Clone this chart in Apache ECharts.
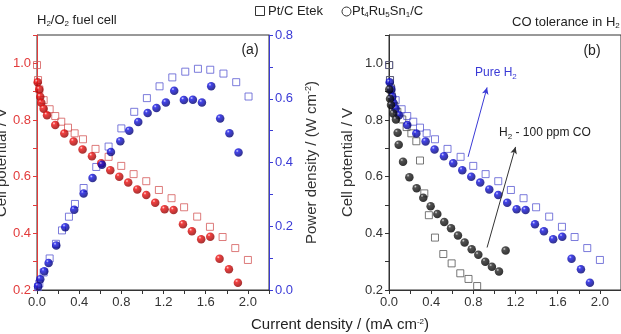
<!DOCTYPE html>
<html>
<head>
<meta charset="utf-8">
<script src="https://cdn.jsdelivr.net/npm/echarts@6/dist/echarts.min.js"></script>
<style>
  html, body { margin: 0; padding: 0; background: #fff; }
  #chart { width: 621px; height: 334px; }
</style>
</head>
<body>
<div id="chart"></div>
<script>
// (a) H2/O2 fuel cell -- Pt/C Etek, cell potential
const ptcCurrent = [0.0, 0.01, 0.022, 0.063, 0.12, 0.173, 0.23, 0.294, 0.357, 0.436, 0.555, 0.679, 0.799, 0.916, 1.036, 1.156, 1.276, 1.395, 1.519, 1.64, 1.76, 1.88, 2.0];
const ptcVoltage = [0.994, 0.941, 0.908, 0.870, 0.838, 0.814, 0.794, 0.773, 0.753, 0.732, 0.698, 0.670, 0.638, 0.609, 0.584, 0.553, 0.524, 0.492, 0.459, 0.423, 0.387, 0.348, 0.306];
// Pt4Ru5Sn1/C, cell potential
const ptruCurrent = [0.006, 0.022, 0.031, 0.041, 0.063, 0.095, 0.173, 0.259, 0.347, 0.432, 0.521, 0.609, 0.695, 0.78, 0.865, 0.951, 1.036, 1.121, 1.21, 1.295, 1.384, 1.469, 1.557, 1.643, 1.731, 1.82, 1.905];
const ptruVoltage = [0.933, 0.908, 0.882, 0.861, 0.840, 0.817, 0.782, 0.752, 0.724, 0.696, 0.672, 0.647, 0.623, 0.600, 0.579, 0.555, 0.535, 0.508, 0.485, 0.482, 0.432, 0.407, 0.379, 0.388, 0.310, 0.273, 0.226];
// power density
const ptcPowCurrent = [0.01, 0.022, 0.063, 0.12, 0.18, 0.237, 0.303, 0.36, 0.442, 0.562, 0.679, 0.8, 0.922, 1.042, 1.162, 1.283, 1.406, 1.526, 1.643, 1.768, 1.889, 2.006];
const ptcPower = [0.009, 0.02, 0.055, 0.099, 0.145, 0.187, 0.230, 0.27, 0.32, 0.386, 0.45, 0.507, 0.559, 0.602, 0.639, 0.667, 0.685, 0.694, 0.691, 0.679, 0.652, 0.607];
const ptruPowCurrent = [0.01, 0.031, 0.069, 0.11, 0.183, 0.268, 0.353, 0.442, 0.527, 0.616, 0.701, 0.79, 0.875, 0.96, 1.049, 1.133, 1.222, 1.301, 1.393, 1.478, 1.564, 1.652, 1.737, 1.825, 1.911];
const ptruPower = [0.012, 0.034, 0.059, 0.085, 0.14, 0.197, 0.252, 0.303, 0.351, 0.393, 0.433, 0.467, 0.50, 0.527, 0.555, 0.571, 0.588, 0.625, 0.596, 0.597, 0.588, 0.639, 0.538, 0.492, 0.431];

// (b) H2 - 100 ppm CO
const coPtcCurrent = [0.003, 0.009, 0.019, 0.028, 0.05, 0.079, 0.126, 0.167, 0.212, 0.259, 0.294, 0.335, 0.378, 0.436, 0.515, 0.594, 0.676, 0.754, 0.836];
const coPtcVoltage = [0.994, 0.941, 0.912, 0.882, 0.85, 0.829, 0.802, 0.775, 0.753, 0.725, 0.657, 0.541, 0.464, 0.385, 0.327, 0.294, 0.259, 0.239, 0.214];
const coPtruCurrent = [0.003, 0.01, 0.019, 0.041, 0.066, 0.082, 0.092, 0.133, 0.193, 0.262, 0.325, 0.395, 0.458, 0.524, 0.588, 0.654, 0.717, 0.784, 0.847, 0.913, 0.976, 1.043, 1.106];
const coPtruVoltage = [0.908, 0.875, 0.853, 0.823, 0.802, 0.755, 0.713, 0.653, 0.598, 0.559, 0.526, 0.496, 0.468, 0.44, 0.418, 0.392, 0.368, 0.344, 0.324, 0.30, 0.282, 0.265, 0.339];

const RED = '#e23b3b', BLUE = '#3a3ad6', FONT = '"Liberation Sans", Arial, sans-serif';

function pairs(xs, ys) { return xs.map((x, i) => [x, ys[i]]); }
function sphere(hi, mid, edge) {
  return new echarts.graphic.RadialGradient(0.35, 0.3, 0.7, [
    { offset: 0, color: hi }, { offset: 0.25, color: mid }, { offset: 1, color: edge }
  ]);
}
const redBall = sphere('#ffd0d0', '#f01010', '#900000');
const blueBall = sphere('#d0d0ff', '#1414e6', '#000070');
const blackBall = sphere('#d0d0d0', '#262626', '#000');

function squares(name, xi, yi, data, color, z) {
  return { name, type: 'scatter', xAxisIndex: xi, yAxisIndex: yi, data, symbol: 'rect', symbolSize: 7, z: z || 2,
    itemStyle: { color: 'rgba(0,0,0,0)', borderColor: color, borderWidth: 1 } };
}
function balls(name, xi, yi, data, grad, z) {
  return { name, type: 'scatter', xAxisIndex: xi, yAxisIndex: yi, data, symbol: 'circle', symbolSize: 8.5, z: z || 3,
    itemStyle: { color: grad } };
}

const tickFmt = step => v => (Math.round(v * 10) % step === 0 ? v.toFixed(1) : '');
const sub = { fontSize: 8, padding: [7, 0, 0, 0] };
const sup = { fontSize: 8, padding: [0, 0, 7, 0] };

function xAxis(gi) {
  return { type: 'value', gridIndex: gi, min: 0, max: 2.2, interval: 0.2,
    axisLine: { lineStyle: { color: '#333' } }, axisTick: { length: 4, lineStyle: { color: '#333' } },
    axisLabel: { color: '#333', fontSize: 13, fontFamily: FONT, margin: 6, formatter: tickFmt(4) },
    splitLine: { show: false } };
}
function yAxis(gi, pos, min, max, color, name, gap, fmt) {
  return { type: 'value', gridIndex: gi, position: pos, min, max, interval: 0.1,
    name, nameLocation: 'middle', nameGap: gap, nameRotate: 90,
    nameTextStyle: { color: '#333', fontSize: 15, fontFamily: FONT, rich: { sup: { fontSize: 9, padding: [0, 0, 7, 0] } } },
    axisLine: { show: true, lineStyle: { color } }, axisTick: { length: 4, lineStyle: { color } },
    axisLabel: { color, fontSize: 13, fontFamily: FONT, margin: 6, formatter: fmt },
    splitLine: { show: false } };
}

const chart = echarts.init(document.getElementById('chart'));
chart.setOption({
  animation: false,
  grid: [
    { left: 37, right: 352, top: 35, bottom: 44, outerBoundsMode: 'none', show: true, borderColor: '#333', borderWidth: 1 },
    { left: 389, right: 0, top: 35, bottom: 44, outerBoundsMode: 'none', show: true, borderColor: '#333', borderWidth: 1 }
  ],
  xAxis: [xAxis(0), xAxis(1)],
  yAxis: [
    yAxis(0, 'left', 0.2, 1.1, RED, 'Cell potential / V', 24, tickFmt(2)),
    yAxis(0, 'right', 0, 0.8, BLUE, 'Power density / (W cm{sup|-2})', 35, tickFmt(2)),
    yAxis(1, 'left', 0.2, 1.1, '#333', 'Cell potential / V', 34, tickFmt(2))
  ],
  series: [
    squares('Pt/C Etek V', 0, 0, pairs(ptcCurrent, ptcVoltage), '#d45a5a'),
    squares('Pt/C Etek P', 0, 1, pairs(ptcPowCurrent, ptcPower), '#5a5ad2'),
    balls('PtRuSn V', 0, 0, pairs(ptruCurrent, ptruVoltage), redBall, 3),
    balls('PtRuSn P', 0, 1, pairs(ptruPowCurrent, ptruPower), blueBall, 4),

    squares('Pt/C Etek H2', 1, 2, pairs(ptcCurrent, ptcVoltage), '#5a5ad2'),
    squares('Pt/C Etek CO', 1, 2, pairs(coPtcCurrent, coPtcVoltage), '#555'),
    Object.assign(balls('PtRuSn H2', 1, 2, pairs(ptruCurrent, ptruVoltage), blueBall, 3), {
      markLine: { silent: true, symbol: ['none', 'arrow'], symbolSize: [5, 7], label: { show: false },
        lineStyle: { color: BLUE, width: 1, type: 'solid' },
        data: [[{ coord: [0.75, 0.67] }, { coord: [0.93, 0.915] }]] }
    }),
    Object.assign(balls('PtRuSn CO', 1, 2, pairs(coPtruCurrent, coPtruVoltage), blackBall, 4), {
      markLine: { silent: true, symbol: ['none', 'arrow'], symbolSize: [5, 7], label: { show: false },
        lineStyle: { color: '#333', width: 1, type: 'solid' },
        data: [[{ coord: [0.93, 0.35] }, { coord: [1.2, 0.705] }]] }
    })
  ],
  graphic: [
    { type: 'rect', shape: { x: 255.5, y: 6.5, width: 9, height: 9 }, style: { fill: 'none', stroke: '#333', lineWidth: 1 } },
    { type: 'text', style: { x: 268, y: 11.5, text: 'Pt/C Etek', font: '13px ' + FONT, fill: '#222', textAlign: 'left', textVerticalAlign: 'middle' } },
    { type: 'circle', shape: { cx: 346.5, cy: 11.5, r: 4.5 }, style: { fill: 'none', stroke: '#333', lineWidth: 1 } },
    { type: 'text', style: { x: 352, y: 11.5, text: 'Pt{s|4}Ru{s|5}Sn{s|1}/C', font: '13px ' + FONT, fill: '#222', textAlign: 'left', textVerticalAlign: 'middle', rich: { s: sub } } },
    { type: 'text', style: { x: 37, y: 20.5, text: 'H{s|2}/O{s|2} fuel cell', font: '13px ' + FONT, fill: '#222', textAlign: 'left', textVerticalAlign: 'middle', rich: { s: sub } } },
    { type: 'text', style: { x: 512, y: 22, text: 'CO tolerance in H{s|2}', font: '13px ' + FONT, fill: '#222', textAlign: 'left', textVerticalAlign: 'middle', rich: { s: sub } } },
    { type: 'text', style: { x: 250, y: 50, text: '(a)', font: '14px ' + FONT, fill: '#222', textAlign: 'center', textVerticalAlign: 'middle' } },
    { type: 'text', style: { x: 592, y: 51, text: '(b)', font: '14px ' + FONT, fill: '#222', textAlign: 'center', textVerticalAlign: 'middle' } },
    { type: 'text', style: { x: 475, y: 73, text: 'Pure H{s|2}', font: '12px ' + FONT, fill: BLUE, textAlign: 'left', textVerticalAlign: 'middle', rich: { s: sub } } },
    { type: 'text', style: { x: 499, y: 133, text: 'H{s|2} - 100 ppm CO', font: '12px ' + FONT, fill: '#222', textAlign: 'left', textVerticalAlign: 'middle', rich: { s: sub } } },
    { type: 'text', style: { x: 340, y: 325, text: 'Current density / (mA cm{p|-2})', font: '15px ' + FONT, fill: '#222', textAlign: 'center', textVerticalAlign: 'middle', rich: { p: sup } } }
  ]
});
window.onresize = () => chart.resize();
</script>
</body>
</html>
